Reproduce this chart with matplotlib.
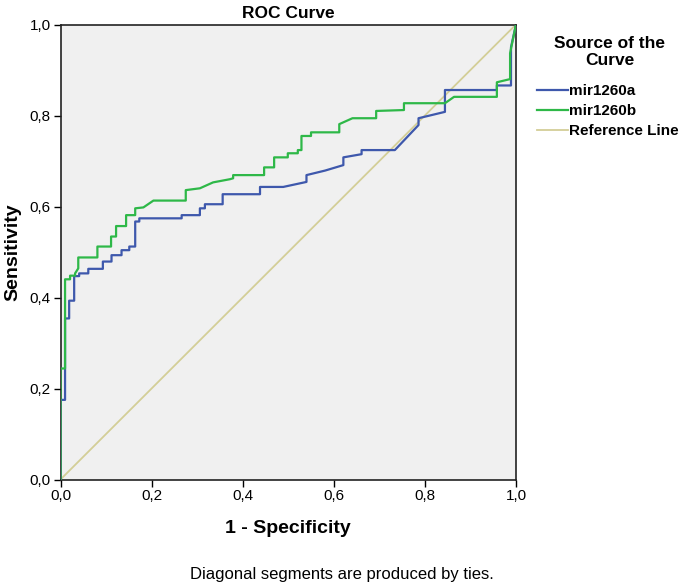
import matplotlib
matplotlib.use("Agg")
import matplotlib.pyplot as plt

plt.rcParams['font.family'] = ['Liberation Sans', 'DejaVu Sans']

# mir1260a ROC curve vertices
a_fpr = [0, 0, 0.01, 0.01, 0.019, 0.019, 0.030, 0.030, 0.041, 0.041, 0.061, 0.061,
         0.093, 0.093, 0.112, 0.112, 0.134, 0.134, 0.151, 0.151, 0.164, 0.164, 0.173,
         0.173, 0.266, 0.266, 0.306, 0.306, 0.317, 0.317, 0.356, 0.356, 0.438, 0.438,
         0.489, 0.540, 0.540, 0.581, 0.621, 0.621, 0.661, 0.661, 0.734, 0.786, 0.786,
         0.844, 0.844, 0.958, 0.958, 0.989, 0.989, 1.0]
a_tpr = [0, 0.175, 0.175, 0.354, 0.354, 0.393, 0.393, 0.447, 0.447, 0.453, 0.453, 0.463,
         0.463, 0.479, 0.479, 0.493, 0.493, 0.504, 0.504, 0.512, 0.512, 0.567, 0.567,
         0.574, 0.574, 0.581, 0.581, 0.596, 0.596, 0.605, 0.605, 0.627, 0.627, 0.643,
         0.643, 0.654, 0.669, 0.679, 0.691, 0.708, 0.715, 0.724, 0.724, 0.779, 0.794,
         0.808, 0.856, 0.856, 0.866, 0.866, 0.95, 1.0]

# mir1260b ROC curve vertices
b_fpr = [0, 0, 0.01, 0.01, 0.021, 0.021, 0.032, 0.032, 0.039, 0.039, 0.081, 0.081,
         0.111, 0.111, 0.122, 0.122, 0.144, 0.144, 0.164, 0.164, 0.182, 0.204, 0.275,
         0.275, 0.306, 0.335, 0.372, 0.379, 0.379, 0.447, 0.447, 0.469, 0.469, 0.499,
         0.499, 0.521, 0.521, 0.529, 0.529, 0.550, 0.550, 0.612, 0.612, 0.641, 0.693,
         0.693, 0.754, 0.754, 0.844, 0.864, 0.958, 0.958, 0.987, 0.987, 1.0]
b_tpr = [0, 0.244, 0.244, 0.44, 0.44, 0.448, 0.448, 0.453, 0.464, 0.488, 0.488, 0.512,
         0.512, 0.534, 0.534, 0.557, 0.557, 0.581, 0.581, 0.596, 0.598, 0.613, 0.613,
         0.636, 0.640, 0.653, 0.660, 0.662, 0.669, 0.669, 0.686, 0.686, 0.708, 0.708,
         0.717, 0.717, 0.724, 0.724, 0.755, 0.755, 0.763, 0.763, 0.781, 0.794, 0.794,
         0.810, 0.812, 0.827, 0.827, 0.841, 0.841, 0.873, 0.880, 0.937, 1.0]

ref_x = [0, 1]
ref_y = [0, 1]

ticks = [0, 0.2, 0.4, 0.6, 0.8, 1.0]
tick_labels = ["0,0", "0,2", "0,4", "0,6", "0,8", "1,0"]

fig = plt.figure(figsize=(6.85, 5.83), dpi=100)
ax = fig.add_axes([60.5 / 685, 1 - 479.5 / 583, 455.5 / 685, 455 / 583])
ax.set_facecolor('#F0F0F0')

l_ref, = ax.plot(ref_x, ref_y, color='#D3CE97', lw=1.3, label='Reference Line', zorder=2)
l_a, = ax.plot(a_fpr, a_tpr, color='#3E58AC', lw=1.6, label='mir1260a', zorder=3)
l_b, = ax.plot(b_fpr, b_tpr, color='#2EB848', lw=1.6, label='mir1260b', zorder=4)

ax.set_xlim(0, 1)
ax.set_ylim(0, 1)
ax.set_xticks(ticks)
ax.set_xticklabels(tick_labels)
ax.set_yticks(ticks)
ax.set_yticklabels(tick_labels)
ax.tick_params(direction='out', length=5, width=1, labelsize=11, pad=2)
for s in ax.spines.values():
    s.set_color('#222222')
    s.set_linewidth(1.2)

ax.set_title('ROC Curve', fontsize=12.5, fontweight='bold', pad=5)
ax.set_xlabel('1 - Specificity', fontsize=14, fontweight='bold', labelpad=12)
ax.set_ylabel('Sensitivity', fontsize=14, fontweight='bold', labelpad=6)

fig.text(610 / 685, 1 - 52 / 583, 'Source of the\nCurve', ha='center', va='center',
         fontsize=12.5, fontweight='bold', linespacing=1.15, multialignment='center')

leg = fig.legend(handles=[l_a, l_b, l_ref],
                 loc='upper left', bbox_to_anchor=(537 / 685, 1 - 84 / 583),
                 frameon=False, prop={'weight': 'bold', 'size': 11},
                 handlelength=2.0, handletextpad=0.1, labelspacing=0.4,
                 borderaxespad=0, borderpad=0)

fig.text(342 / 685, 1 - 575 / 583, 'Diagonal segments are produced by ties.',
         ha='center', va='center', fontsize=12)

fig.savefig('out.png', dpi=100)
